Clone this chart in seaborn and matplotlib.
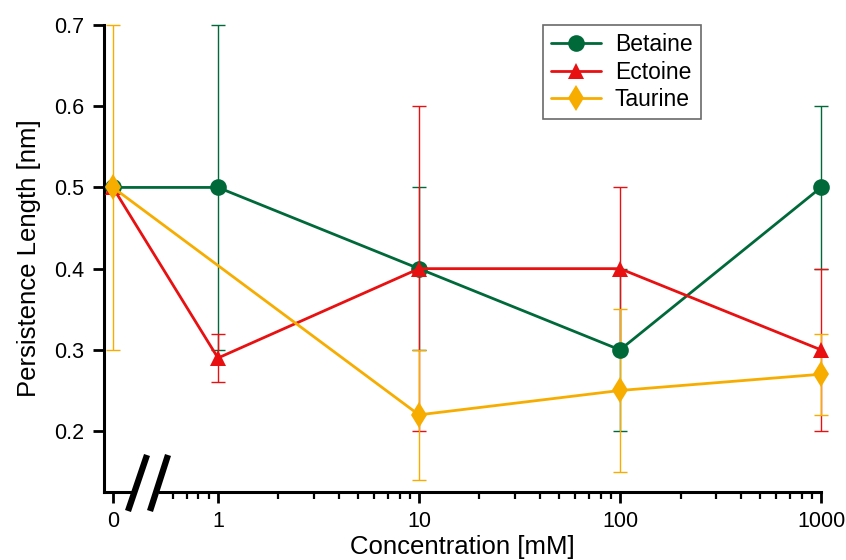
import numpy as np
import pandas as pd
import matplotlib
matplotlib.use("Agg")
import matplotlib.pyplot as plt
import seaborn as sns
from matplotlib.patches import Rectangle
from matplotlib.lines import Line2D

# ---- data ----
conc_labels = ["0", "1", "10", "100", "1000"]
conc_pos = [0.3, 1, 10, 100, 1000]          # "0" shown left of the axis break
betaine = [0.5, 0.5, 0.4, 0.3, 0.5]
betaine_err = [0.0, 0.2, 0.1, 0.1, 0.1]
ectoine = [0.5, 0.29, 0.4, 0.4, 0.3]
ectoine_err = [0.0, 0.03, 0.2, 0.1, 0.1]
taurine = [0.5, np.nan, 0.22, 0.25, 0.27]
taurine_err = [0.2, np.nan, 0.08, 0.10, 0.05]

names = ["Betaine", "Ectoine", "Taurine"]
colors = {"Betaine": "#00693a", "Ectoine": "#e81010", "Taurine": "#f7ad00"}
markers = {"Betaine": "o", "Ectoine": "^", "Taurine": "d"}
msize = {"Betaine": 12, "Ectoine": 12, "Taurine": 13}

rows = []
for name, vals, errs in zip(names, [betaine, ectoine, taurine],
                            [betaine_err, ectoine_err, taurine_err]):
    for x, v, e in zip(conc_pos, vals, errs):
        rows.append({"conc": x, "value": v, "err": e, "compound": name})
df = pd.DataFrame(rows)

sns.set_theme(style="white")
plt.rcParams["font.family"] = ["Liberation Sans", "DejaVu Sans"]
plt.rcParams["text.color"] = "black"
plt.rcParams["axes.labelcolor"] = "black"

fig = plt.figure(figsize=(8.46, 5.60), dpi=100)
ax = fig.add_axes([104/846, 1-492/560, (821-104)/846, (492-25)/560])

# error bars first
for name in names:
    sub = df[df.compound == name].dropna()
    ax.errorbar(sub.conc, sub.value, yerr=sub.err, fmt="none",
                ecolor=colors[name], elinewidth=1.0, capsize=5, capthick=1.0,
                clip_on=False, zorder=2)

n_before = len(ax.lines)
sns.lineplot(data=df.dropna(subset=["value"]), x="conc", y="value",
             hue="compound", style="compound", hue_order=names, style_order=names,
             palette=colors, markers=markers, dashes=False,
             linewidth=2.0, ax=ax, legend=False,
             estimator=None, sort=True, zorder=3)
for ln, n in zip(ax.lines[n_before:], names):
    ln.set_clip_on(False)
    ln.set_markersize(msize[n])
    ln.set_markeredgewidth(0)

ax.set_xscale("log")
ax.set_xlim(0.271, 1000)
ax.set_ylim(0.125, 0.7)

ax.set_xticks(conc_pos)
ax.set_xticklabels(conc_labels)
minor = [0.6, 0.7, 0.8, 0.9] + [m * d for d in (1, 10, 100) for m in range(2, 10)]
ax.set_xticks(minor, minor=True)
ax.set_xticklabels([], minor=True)
ax.set_yticks([0.2, 0.3, 0.4, 0.5, 0.6, 0.7])
ax.set_yticklabels(["0.2", "0.3", "0.4", "0.5", "0.6", "0.7"])

for s in ["top", "right"]:
    ax.spines[s].set_visible(False)
for s in ["left", "bottom"]:
    ax.spines[s].set_linewidth(2.2)
    ax.spines[s].set_color("black")

ax.tick_params(axis="both", which="major", direction="out", length=8, width=2,
               color="black", labelsize=15.5, labelcolor="black", bottom=True, left=True)
ax.tick_params(axis="x", which="major", pad=6)
ax.tick_params(axis="y", which="major", pad=6)
ax.tick_params(axis="x", which="minor", direction="out", length=5, width=1.6,
               color="black", bottom=True)

ax.set_xlabel("Concentration [mM]", fontsize=18.5, labelpad=2, color="black")
ax.set_ylabel("Persistence Length [nm]", fontsize=18.5, labelpad=10, color="black")

# axis break
tr = fig.transFigure
W, H = 846, 560
fig.patches.append(Rectangle((134/W, 1-497/H), 25/W, 10/H, transform=tr,
                             facecolor="white", edgecolor="none", zorder=10))
for x0, x1 in [(128, 147), (150, 168)]:
    fig.lines.append(Line2D([x0/W, x1/W], [1-511/H, 1-455/H], transform=tr,
                            color="black", linewidth=4.5, solid_capstyle="butt", zorder=11))

handles = [Line2D([], [], color=colors[n], marker=markers[n], markersize=msize[n],
                  markeredgewidth=0, linewidth=2.0) for n in names]
leg = ax.legend(handles, names, loc="upper left", bbox_to_anchor=(0.612, 1.0),
                borderaxespad=0, frameon=True, fancybox=False, fontsize=16.5,
                handlelength=2.2, labelspacing=0.2, handletextpad=0.6, borderpad=0.35)
leg.get_frame().set_edgecolor("#444444")
leg.get_frame().set_linewidth(1.2)
for t in leg.get_texts():
    t.set_color("black")

fig.savefig("out.png", dpi=100, facecolor="white")
